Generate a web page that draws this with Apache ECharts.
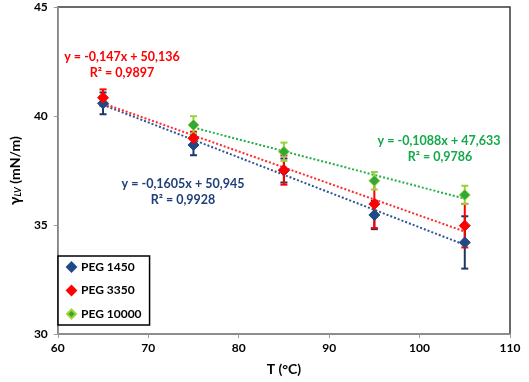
<!DOCTYPE html>
<html>
<head>
<meta charset="utf-8">
<script src="https://cdn.jsdelivr.net/npm/echarts@6/dist/echarts.min.js"></script>
<style>
html,body{margin:0;padding:0;background:#fff;}
#chart{width:529px;height:382px;}
</style>
</head>
<body>
<div id="chart"></div>
<script>
// temperatures (°C)
var tempX = [65, 75, 85, 95, 105];
// surface tension means and error bars
var peg1450 = [40.58, 38.67, 37.5, 35.46, 34.2];
var peg1450Err = [0.5, 0.47, 0.55, 0.65, 1.2];
var peg3350 = [40.84, 38.98, 37.52, 35.96, 34.97];
var peg3350Err = [0.38, 0.3, 0.67, 1.1, 1.0];
var peg10000 = [null, 39.59, 38.36, 37.03, 36.38];
var peg10000Err = [null, 0.4, 0.42, 0.4, 0.42];
// trendline end points
var trend1450 = [[65, 40.51], [105, 34.09]];
var trend3350 = [[65, 40.58], [105, 34.70]];
var trend10000 = [[75, 39.47], [105, 36.21]];
var xTicks = [60, 70, 80, 90, 100, 110];
var yTicks = [30, 35, 40, 45];

var FONT = 'Lato';

function points(vals){
	var out = [];
	for(var i = 0; i < tempX.length; i++){
		if(vals[i] != null) out.push([tempX[i], vals[i]]);
	}
	return out;
}
function errData(vals, errs){
	var out = [];
	for(var i = 0; i < tempX.length; i++){
		if(vals[i] != null) out.push([tempX[i], vals[i] - errs[i], vals[i] + errs[i]]);
	}
	return out;
}
function errSeries(name, vals, errs, color){
	return {
		name: name,
		type: 'custom',
		z: 3,
		data: errData(vals, errs),
		renderItem: function(params, api){
			var x = api.value(0);
			var lo = api.coord([x, api.value(1)]);
			var hi = api.coord([x, api.value(2)]);
			var w = 3.5;
			var st = {stroke: color, lineWidth: 2};
			return {
				type: 'group',
				children: [
					{type: 'line', shape: {x1: lo[0], y1: lo[1], x2: hi[0], y2: hi[1]}, style: st},
					{type: 'line', shape: {x1: hi[0] - w, y1: hi[1], x2: hi[0] + w, y2: hi[1]}, style: st},
					{type: 'line', shape: {x1: lo[0] - w, y1: lo[1], x2: lo[0] + w, y2: lo[1]}, style: st}
				]
			};
		}
	};
}
function trendSeries(name, data, color){
	return {
		name: name,
		type: 'line',
		z: 2,
		data: data,
		symbol: 'none',
		silent: true,
		lineStyle: {color: color, width: 2, type: 'dotted'}
	};
}
function markerSeries(name, vals, color, border){
	return {
		name: name,
		type: 'scatter',
		z: 4,
		data: points(vals),
		symbol: 'diamond',
		symbolSize: 11,
		itemStyle: {color: color, borderColor: border, borderWidth: 1, opacity: 1}
	};
}
function eqText(x, y, text, color){
	return {type: 'text', x: x, y: y, z: 10,
		style: {text: text, fill: color, font: 'bold 12.5px ' + FONT, align: 'center', verticalAlign: 'middle'}};
}

var chart = echarts.init(document.getElementById('chart'));
chart.setOption({
	animation: false,
	textStyle: {fontFamily: FONT},
	grid: {left: 46, right: 19, top: 7, bottom: 48, show: true, borderColor: '#3a3a3a', borderWidth: 1.5},
	legend: {
		data: ['PEG 1450', 'PEG 3350', 'PEG 10000'],
		orient: 'vertical',
		left: 58,
		top: 256,
		padding: [4, 8, 4, 8],
		itemGap: 9.5,
		itemWidth: 9,
		itemHeight: 9,
		borderColor: '#000',
		borderWidth: 1.5,
		backgroundColor: '#fff',
		textStyle: {fontFamily: FONT, fontWeight: 'bold', fontSize: 12, color: '#000', lineHeight: 14}
	},
	xAxis: {
		type: 'value',
		min: 60,
		max: 110,
		interval: 10,
		name: 'T (°C)',
		nameLocation: 'middle',
		nameGap: 28,
		nameTextStyle: {fontFamily: FONT, fontWeight: 'bold', fontSize: 14, color: '#000'},
		axisLine: {show: true, lineStyle: {color: '#9a9a9a', width: 1.5}},
		axisTick: {show: true, length: 4, lineStyle: {color: '#9a9a9a'}},
		axisLabel: {fontFamily: FONT, fontWeight: 'bold', fontSize: 12, color: '#000', margin: 8,
			customValues: xTicks},
		splitLine: {show: false}
	},
	yAxis: {
		type: 'value',
		min: 30,
		max: 45,
		interval: 5,
		name: '{g|γ}{s|LV}{n| (mN/m)}',
		nameLocation: 'middle',
		nameGap: 30,
		nameRotate: 90,
		nameTextStyle: {
			fontFamily: FONT, fontWeight: 'bold', fontSize: 14, color: '#000',
			rich: {
				g: {fontFamily: FONT, fontWeight: 'bold', fontSize: 15, color: '#000', lineHeight: 18},
				s: {fontFamily: FONT, fontWeight: 'bold', fontStyle: 'italic', fontSize: 9, color: '#000', lineHeight: 18, padding: [6, 0, 0, 0]},
				n: {fontFamily: FONT, fontWeight: 'bold', fontSize: 14, color: '#000', lineHeight: 18}
			}
		},
		axisLine: {show: true, lineStyle: {color: '#9a9a9a', width: 1.5}},
		axisTick: {show: true, length: 4, lineStyle: {color: '#9a9a9a'}},
		axisLabel: {fontFamily: FONT, fontWeight: 'bold', fontSize: 12, color: '#000', margin: 10,
			customValues: yTicks},
		splitLine: {show: false}
	},
	graphic: [
		eqText(122, 57, 'y = -0,147x + 50,136', '#ff0000'),
		eqText(122, 73, 'R² = 0,9897', '#ff0000'),
		eqText(183, 184, 'y = -0,1605x + 50,945', '#1f3f7a'),
		eqText(183, 200, 'R² = 0,9928', '#1f3f7a'),
		eqText(439, 141, 'y = -0,1088x + 47,633', '#13a94a'),
		eqText(440, 157, 'R² = 0,9786', '#13a94a')
	],
	series: [
		trendSeries('trend 1450', trend1450, '#2f5597'),
		trendSeries('trend 3350', trend3350, '#ff2a2a'),
		trendSeries('trend 10000', trend10000, '#1fb04a'),
		errSeries('err 1450', peg1450, peg1450Err, '#1c3768'),
		markerSeries('PEG 1450', peg1450, '#1f4a85', '#1f4a85'),
		errSeries('err 3350', peg3350, peg3350Err, '#ff0000'),
		markerSeries('PEG 3350', peg3350, '#ff0000', '#ff0000'),
		errSeries('err 10000', peg10000, peg10000Err, '#9ccf3a'),
		markerSeries('PEG 10000', peg10000, '#2eaa3c', '#a9d23a')
	]
});
</script>
</body>
</html>
